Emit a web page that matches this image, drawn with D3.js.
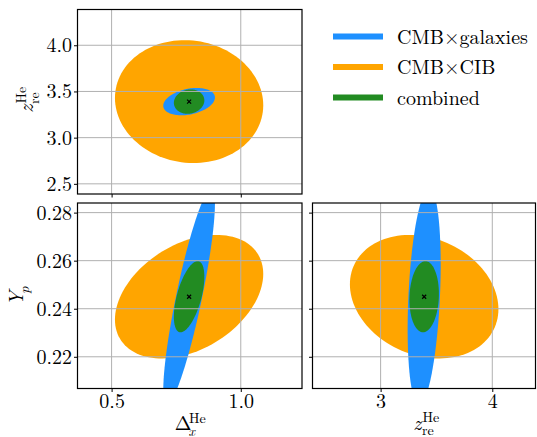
<!DOCTYPE html>
<html lang="en">
<head>
<meta charset="utf-8">
<title>He reionization forecast</title>
<script src="https://cdnjs.cloudflare.com/ajax/libs/d3/7.8.5/d3.min.js"></script>
<style>
  body { margin: 0; background: #fff; }
</style>
</head>
<body>
<script>
var w = 537, h = 437;
var font = "'Latin Modern Roman', 'CMU Serif', 'Liberation Serif', serif";

// parameters are [Delta_x^He, z_re^He, Y_p]
var fiducial = [0.8, 3.39, 0.245];
var dxDomain = [0.368, 1.237];
var zreDomain = [2.39, 4.387];
var ypDomain = [0.2068, 0.284];
var dxTicks = [0.5, 1.0];
var zreTicks = [2.5, 3.0, 3.5, 4.0];
var zreTicksBottom = [3, 4];
var ypTicks = [0.22, 0.24, 0.26, 0.28];

var seriesNames = ["CMB×galaxies", "CMB×CIB", "combined"];
var seriesColors = ["#1e90ff", "#ffa500", "#228b22"];

// half-extent of each contour along [dx, zre, yp]
var extentGalaxies = [0.100, 0.148, 0.045];
var extentCIB = [0.287, 0.665, 0.0257];
var extentCombined = [0.059, 0.132, 0.0148];
// correlation for the pairs [dx-zre, dx-yp, zre-yp]
var rhoGalaxies = [0.30, 0.86, 0.30];
var rhoCIB = [-0.06, 0.37, -0.20];
var rhoCombined = [0.10, 0.56, 0.08];

var extents = [extentGalaxies, extentCIB, extentCombined];
var rhos = [rhoGalaxies, rhoCIB, rhoCombined];
var drawOrder = [1, 0, 2];
var domains = [dxDomain, zreDomain, ypDomain];

var svg = d3.select("body").append("svg")
    .attr("width", w)
    .attr("height", h);

var panels = [
  {ix: 0, iy: 1, pair: 0, x0: 77.5, x1: 302, y0: 9.5, y1: 194,
   xTicks: dxTicks, yTicks: zreTicks, xLabels: false, yLabels: true, xFmt: ".1f", yFmt: ".1f"},
  {ix: 0, iy: 2, pair: 1, x0: 77.5, x1: 302, y0: 203, y1: 388.5,
   xTicks: dxTicks, yTicks: ypTicks, xLabels: true, yLabels: true, xFmt: ".1f", yFmt: ".2f"},
  {ix: 1, iy: 2, pair: 2, x0: 312.5, x1: 535.5, y0: 203, y1: 388.5,
   xTicks: zreTicksBottom, yTicks: ypTicks, xLabels: true, yLabels: false, xFmt: "d", yFmt: ".2f"}
];

var angles = d3.range(0, 121).map(function(k) { return 2 * Math.PI * k / 120; });

panels.forEach(function(p, n) {
  var x = d3.scaleLinear().domain(domains[p.ix]).range([p.x0, p.x1]);
  var y = d3.scaleLinear().domain(domains[p.iy]).range([p.y1, p.y0]);

  svg.append("clipPath").attr("id", "clip" + n)
    .append("rect")
    .attr("x", p.x0).attr("y", p.y0)
    .attr("width", p.x1 - p.x0).attr("height", p.y1 - p.y0);

  var g = svg.append("g").attr("clip-path", "url(#clip" + n + ")");

  drawOrder.forEach(function(s) {
    var a = extents[s][p.ix], b = extents[s][p.iy], r = rhos[s][p.pair];
    var cx = fiducial[p.ix], cy = fiducial[p.iy];
    var line = d3.line()
      .x(function(t) { return x(cx + a * Math.cos(t)); })
      .y(function(t) { return y(cy + b * (r * Math.cos(t) + Math.sqrt(1 - r * r) * Math.sin(t))); })
      .curve(d3.curveLinearClosed);
    g.append("path")
      .datum(angles)
      .attr("d", line)
      .attr("fill", seriesColors[s]);
  });

  // grid on top of the contours
  g.selectAll(".gx").data(p.xTicks).enter().append("line")
    .attr("x1", function(d) { return x(d); }).attr("x2", function(d) { return x(d); })
    .attr("y1", p.y0).attr("y2", p.y1)
    .attr("stroke", "#b0b0b0").attr("stroke-width", 1);
  g.selectAll(".gy").data(p.yTicks).enter().append("line")
    .attr("y1", function(d) { return y(d); }).attr("y2", function(d) { return y(d); })
    .attr("x1", p.x0).attr("x2", p.x1)
    .attr("stroke", "#b0b0b0").attr("stroke-width", 1);

  // fiducial marker
  var fx = x(fiducial[p.ix]), fy = y(fiducial[p.iy]);
  g.append("path")
    .attr("d", "M" + (fx - 2) + "," + (fy - 2) + "L" + (fx + 2) + "," + (fy + 2) +
               "M" + (fx - 2) + "," + (fy + 2) + "L" + (fx + 2) + "," + (fy - 2))
    .attr("stroke", "#000").attr("stroke-width", 1.2);

  var xAxis = d3.axisBottom(x).tickValues(p.xTicks).tickSize(3.5).tickPadding(2)
    .tickFormat(p.xLabels ? d3.format(p.xFmt) : "");
  var yAxis = d3.axisLeft(y).tickValues(p.yTicks).tickSize(3.5).tickPadding(2)
    .tickFormat(p.yLabels ? d3.format(p.yFmt) : "");

  var gx = svg.append("g").attr("transform", "translate(0," + p.y1 + ")").call(xAxis);
  var gy = svg.append("g").attr("transform", "translate(" + p.x0 + ",0)").call(yAxis);
  [gx, gy].forEach(function(ax) {
    ax.select(".domain").remove();
    ax.selectAll("text").style("font-family", font).style("font-size", "20px");
    ax.selectAll("line").attr("stroke", "#000").attr("stroke-width", 1);
  });

  svg.append("rect")
    .attr("x", p.x0).attr("y", p.y0)
    .attr("width", p.x1 - p.x0).attr("height", p.y1 - p.y0)
    .attr("fill", "none").attr("stroke", "#000").attr("stroke-width", 1.2);
});

// axis labels with stacked sub/superscripts
function mathLabel(g, base, baseItalic, sup, sub, subItalic) {
  var t = g.append("text").style("font-size", "20px")
    .style("font-style", baseItalic ? "italic" : "normal").text(base);
  var bw = t.node().getComputedTextLength();
  var ws = 0;
  if (sup) {
    var ts = g.append("text").style("font-size", "14px").attr("x", bw + 1.5).attr("y", -7.5).text(sup);
    ws = Math.max(ws, ts.node().getComputedTextLength());
  }
  if (sub) {
    var tb = g.append("text").style("font-size", "14px").attr("x", bw + 1).attr("y", 5.5)
      .style("font-style", subItalic ? "italic" : "normal").text(sub);
    ws = Math.max(ws, tb.node().getComputedTextLength());
  }
  g.selectAll("text").style("font-family", font);
  var total = bw + 1.5 + ws;
  g.selectAll("text").attr("dx", -total / 2);
}

mathLabel(svg.append("g").attr("transform", "translate(190,430)"), "Δ", false, "He", "x", true);
mathLabel(svg.append("g").attr("transform", "translate(426,429.5)"), "z", true, "He", "re", false);
mathLabel(svg.append("g").attr("transform", "translate(33,100) rotate(-90)"), "z", true, "He", "re", false);
mathLabel(svg.append("g").attr("transform", "translate(23,296) rotate(-90)"), "Y", true, null, "p", true);

// legend
var legendOrder = [0, 1, 2];
var legend = svg.append("g");
legendOrder.forEach(function(s, i) {
  var ly = 36.5 + i * 30.5;
  legend.append("line")
    .attr("x1", 333).attr("x2", 383).attr("y1", ly).attr("y2", ly)
    .attr("stroke", seriesColors[s]).attr("stroke-width", 6);
  legend.append("text")
    .attr("x", 397).attr("y", ly + 7)
    .style("font-family", font).style("font-size", "20px")
    .text(seriesNames[s]);
});
</script>
</body>
</html>
